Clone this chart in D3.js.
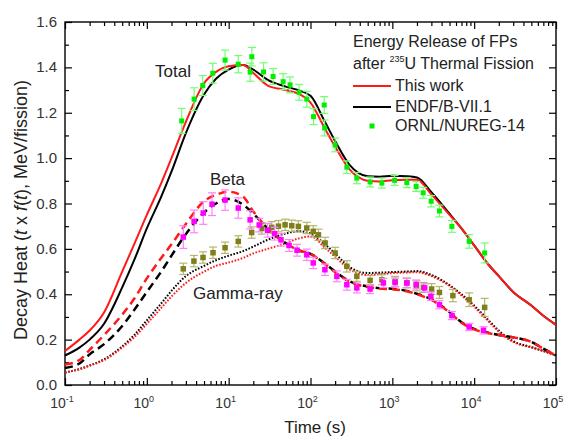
<!DOCTYPE html>
<html>
<head>
<meta charset="utf-8">
<script src="https://cdn.jsdelivr.net/npm/d3@7"></script>
<style>
  body { margin: 0; background: #fff; }
  svg { font-family: "Liberation Sans", Arial, sans-serif; }
</style>
</head>
<body>
<div id="chart"></div>
<script>
// --- curve grid (s) ---
const curveTimes = [0.1, 0.15, 0.2, 0.3, 0.5, 0.7, 1, 1.5, 2, 3, 5, 7, 10, 15, 20, 30, 50, 70,
  100, 150, 200, 300, 500, 700, 1000, 1500, 2000, 3000, 5000, 7000, 1e4, 1.5e4, 2e4, 3e4, 5e4, 7e4, 1e5];

const totalThis = [0.15, 0.20, 0.24, 0.32, 0.50, 0.62, 0.75, 0.89, 1.00, 1.16, 1.33, 1.38, 1.405, 1.41,
  1.375, 1.32, 1.30, 1.285, 1.245, 1.13, 1.05, 0.95, 0.90, 0.897, 0.903, 0.905, 0.905, 0.84, 0.75, 0.69,
  0.615, 0.53, 0.48, 0.41, 0.35, 0.305, 0.265];
const totalEndf = [0.13, 0.165, 0.20, 0.27, 0.43, 0.55, 0.69, 0.83, 0.94, 1.11, 1.28, 1.35, 1.39, 1.41,
  1.39, 1.345, 1.315, 1.30, 1.275, 1.16, 1.075, 0.97, 0.92, 0.918, 0.922, 0.92, 0.915, 0.85, 0.755, 0.69,
  0.615, 0.53, 0.48, 0.41, 0.35, 0.305, 0.265];
const betaThis = [0.09, 0.11, 0.155, 0.22, 0.31, 0.38, 0.47, 0.56, 0.62, 0.71, 0.81, 0.838, 0.852, 0.83,
  0.765, 0.69, 0.625, 0.595, 0.578, 0.533, 0.497, 0.455, 0.432, 0.425, 0.422, 0.413, 0.40, 0.375, 0.32,
  0.275, 0.245, 0.228, 0.22, 0.21, 0.19, 0.16, 0.13];
const betaEndf = [0.075, 0.095, 0.135, 0.18, 0.26, 0.33, 0.41, 0.50, 0.57, 0.665, 0.76, 0.80, 0.82, 0.795,
  0.755, 0.69, 0.625, 0.595, 0.578, 0.535, 0.50, 0.457, 0.434, 0.427, 0.424, 0.415, 0.402, 0.377, 0.322,
  0.277, 0.247, 0.23, 0.22, 0.21, 0.19, 0.16, 0.13];
const gammaThis = [0.055, 0.07, 0.085, 0.11, 0.165, 0.21, 0.27, 0.34, 0.39, 0.45, 0.50, 0.525, 0.54, 0.56,
  0.58, 0.60, 0.625, 0.645, 0.655, 0.605, 0.565, 0.51, 0.485, 0.488, 0.493, 0.496, 0.497, 0.48, 0.437,
  0.395, 0.345, 0.28, 0.235, 0.19, 0.165, 0.15, 0.13];
const gammaEndf = [0.055, 0.07, 0.086, 0.113, 0.17, 0.22, 0.285, 0.36, 0.415, 0.48, 0.525, 0.55, 0.57, 0.59,
  0.61, 0.64, 0.668, 0.678, 0.668, 0.62, 0.58, 0.52, 0.494, 0.495, 0.498, 0.50, 0.502, 0.485, 0.44,
  0.40, 0.35, 0.285, 0.24, 0.193, 0.167, 0.15, 0.13];

// --- ORNL/NUREG-14 points ---
const totTime = [2.67, 3.78, 4.82, 6.39, 9.04, 13.1, 18.3, 19.2, 26.7, 34.9, 46.3, 56.3, 72.6, 90.1, 109,
  147, 149, 200, 278, 368, 535, 745, 1067, 1503, 1954, 2382, 2981, 3764, 5337, 8690, 13430];
const totVal = [1.164, 1.26, 1.32, 1.374, 1.432, 1.414, 1.379, 1.447, 1.38, 1.36, 1.337, 1.323, 1.29, 1.26, 1.183,
  1.234, 1.133, 1.058, 0.96, 0.912, 0.895, 0.89, 0.902, 0.892, 0.875, 0.847, 0.81, 0.767, 0.699, 0.633, 0.582];
const totErr = [0.055, 0.05, 0.044, 0.044, 0.044, 0.038, 0.04, 0.041, 0.04, 0.035, 0.035, 0.035, 0.035, 0.035, 0.035,
  0.037, 0.035, 0.03, 0.028, 0.025, 0.022, 0.022, 0.022, 0.022, 0.022, 0.024, 0.025, 0.026, 0.026, 0.03, 0.044];

const betaTime = [2.79, 3.78, 4.89, 6.26, 9.04, 13.1, 18.3, 23.6, 29.9, 36.4, 43.6, 54.7, 68.5, 90.1, 108, 150,
  210, 278, 368, 535, 778, 1081, 1503, 1954, 2483, 2958, 3764, 5337, 8690, 13000];
const betaVal = [0.652, 0.721, 0.758, 0.797, 0.815, 0.78, 0.728, 0.705, 0.682, 0.667, 0.64, 0.615, 0.594, 0.574,
  0.538, 0.508, 0.479, 0.442, 0.428, 0.423, 0.45, 0.452, 0.45, 0.443, 0.428, 0.391, 0.354, 0.306, 0.256, 0.241];
const betaErr = [0.05, 0.05, 0.05, 0.05, 0.045, 0.045, 0.04, 0.03, 0.03, 0.028, 0.028, 0.026, 0.026, 0.025,
  0.025, 0.025, 0.024, 0.024, 0.022, 0.02, 0.02, 0.02, 0.02, 0.02, 0.018, 0.018, 0.018, 0.018, 0.016, 0.016];

const gammaTime = [2.79, 3.76, 4.86, 6.44, 9.04, 13.1, 19.1, 25.4, 33.6, 40.6, 48.9, 59.0, 71.1, 90.1, 108, 125,
  151, 200, 278, 368, 535, 745, 1081, 1503, 1972, 2399, 3020, 3764, 5495, 8690, 13430];
const gammaVal = [0.512, 0.546, 0.562, 0.583, 0.605, 0.633, 0.672, 0.69, 0.695, 0.70, 0.706, 0.702, 0.699, 0.692,
  0.677, 0.662, 0.626, 0.582, 0.523, 0.479, 0.461, 0.464, 0.457, 0.45, 0.437, 0.43, 0.423, 0.408, 0.394, 0.376, 0.342];
const gammaErr = [0.025, 0.025, 0.025, 0.025, 0.025, 0.025, 0.025, 0.025, 0.025, 0.025, 0.025, 0.025, 0.025, 0.025,
  0.025, 0.025, 0.025, 0.025, 0.025, 0.022, 0.022, 0.022, 0.022, 0.022, 0.022, 0.022, 0.024, 0.026, 0.027, 0.03, 0.04];

const yTicks = [0.0, 0.2, 0.4, 0.6, 0.8, 1.0, 1.2, 1.4, 1.6];
const xDecades = [-1, 0, 1, 2, 3, 4, 5];

// --------------------------
// CHART DIMENSIONS
// --------------------------
const width = 571;
const height = 440;
const margin = { top: 22, right: 15, bottom: 55, left: 65 };

const svg = d3.select("#chart").append("svg")
  .attr("width", width)
  .attr("height", height);

const x = d3.scaleLog()
  .domain([0.1, 1e5])
  .range([margin.left, width - margin.right]);

const y = d3.scaleLinear()
  .domain([0, 1.6])
  .range([height - margin.bottom, margin.top]);

// axes with inward ticks
const majorX = xDecades.map(e => Math.pow(10, e));
const minorX = [];
xDecades.slice(0, -1).forEach(e => {
  for (let k = 2; k <= 9; k++) minorX.push(k * Math.pow(10, e));
});
const minorY = d3.range(0.1, 1.6, 0.2);

function addAxis(axisFn, scale, values, size, transform) {
  svg.append("g")
    .attr("transform", transform)
    .call(axisFn(scale).tickValues(values).tickSize(size).tickFormat(""))
    .call(g => g.select(".domain").remove())
    .call(g => g.selectAll("line").attr("stroke", "#000").attr("stroke-width", 1.2));
}
const bottomY = height - margin.bottom;
addAxis(d3.axisBottom, x, majorX, -7, `translate(0,${bottomY})`);
addAxis(d3.axisBottom, x, minorX, -4, `translate(0,${bottomY})`);
addAxis(d3.axisTop, x, majorX, -7, `translate(0,${margin.top})`);
addAxis(d3.axisTop, x, minorX, -4, `translate(0,${margin.top})`);
addAxis(d3.axisLeft, y, yTicks, -7, `translate(${margin.left},0)`);
addAxis(d3.axisLeft, y, minorY, -4, `translate(${margin.left},0)`);
addAxis(d3.axisRight, y, yTicks, -7, `translate(${width - margin.right},0)`);
addAxis(d3.axisRight, y, minorY, -4, `translate(${width - margin.right},0)`);

svg.append("rect")
  .attr("x", margin.left).attr("y", margin.top)
  .attr("width", width - margin.left - margin.right)
  .attr("height", height - margin.top - margin.bottom)
  .attr("fill", "none").attr("stroke", "#000").attr("stroke-width", 1.4);

// tick labels
svg.append("g").selectAll("text")
  .data(yTicks)
  .join("text")
    .attr("x", margin.left - 8)
    .attr("y", d => y(d) + 5)
    .attr("text-anchor", "end")
    .attr("font-size", 15)
    .attr("fill", "#333")
    .text(d => d3.format(".1f")(d));

const xl = svg.append("g").selectAll("text")
  .data(xDecades)
  .join("text")
    .attr("x", d => x(Math.pow(10, d)) - 3)
    .attr("y", bottomY + 23)
    .attr("text-anchor", "middle")
    .attr("font-size", 14)
    .attr("fill", "#333");
xl.append("tspan").text("10");
xl.append("tspan").attr("dy", -6).attr("font-size", 9).text(d => d);

// axis titles
svg.append("text")
  .attr("x", 315).attr("y", 433)
  .attr("text-anchor", "middle")
  .attr("font-size", 17)
  .attr("fill", "#222")
  .text("Time (s)");

const yt = svg.append("text")
  .attr("transform", "translate(27,210) rotate(-90)")
  .attr("text-anchor", "middle")
  .attr("font-size", 18)
  .attr("fill", "#222");
yt.append("tspan").text("Decay Heat (");
yt.append("tspan").attr("font-style", "italic").text("t");
yt.append("tspan").text(" x ");
yt.append("tspan").attr("font-style", "italic").text("f");
yt.append("tspan").text("(");
yt.append("tspan").attr("font-style", "italic").text("t");
yt.append("tspan").text("), MeV/fission)");

// --------------------------
// CURVES
// --------------------------
const line = d3.line()
  .x(d => x(d.t))
  .y(d => y(d.v))
  .curve(d3.curveMonotoneX);

const curves = [
  { vals: gammaEndf, color: "#000", dash: "1.6,1.6", w: 2 },
  { vals: gammaThis, color: "#ff1a1a", dash: "1.6,1.6", w: 2 },
  { vals: betaEndf, color: "#000", dash: "8,5", w: 2.5 },
  { vals: betaThis, color: "#ff1a1a", dash: "8,5", w: 2.5 },
  { vals: totalEndf, color: "#000", dash: null, w: 2 },
  { vals: totalThis, color: "#ff1a1a", dash: null, w: 2 }
];

svg.append("g").selectAll("path")
  .data(curves)
  .join("path")
    .attr("d", c => line(curveTimes.map((t, i) => ({ t, v: c.vals[i] }))))
    .attr("fill", "none")
    .attr("stroke", c => c.color)
    .attr("stroke-width", c => c.w)
    .attr("stroke-dasharray", c => c.dash);

// --------------------------
// DATA POINTS WITH ERROR BARS
// --------------------------
function drawPoints(times, vals, errs, fill, barColor, size) {
  const pts = times.map((t, i) => ({ t, v: vals[i], e: errs[i] }));
  const g = svg.append("g");
  const bars = g.append("g").attr("stroke", barColor).attr("stroke-width", 1.2);
  bars.selectAll(".v").data(pts).join("line")
    .attr("x1", d => x(d.t)).attr("x2", d => x(d.t))
    .attr("y1", d => y(d.v - d.e)).attr("y2", d => y(d.v + d.e));
  bars.selectAll(".top").data(pts).join("line").attr("class", "top")
    .attr("x1", d => x(d.t) - 4).attr("x2", d => x(d.t) + 4)
    .attr("y1", d => y(d.v + d.e)).attr("y2", d => y(d.v + d.e));
  bars.selectAll(".bot").data(pts).join("line").attr("class", "bot")
    .attr("x1", d => x(d.t) - 4).attr("x2", d => x(d.t) + 4)
    .attr("y1", d => y(d.v - d.e)).attr("y2", d => y(d.v - d.e));
  g.selectAll("rect").data(pts).join("rect")
    .attr("x", d => x(d.t) - size / 2)
    .attr("y", d => y(d.v) - size / 2)
    .attr("width", size).attr("height", size)
    .attr("fill", fill);
}

drawPoints(gammaTime, gammaVal, gammaErr, "#7f7f1a", "#b5b56e", 5.5);
drawPoints(betaTime, betaVal, betaErr, "#ff00ff", "#ff80ff", 5.5);
drawPoints(totTime, totVal, totErr, "#00ee00", "#70ff70", 5);

// --------------------------
// LABELS & LEGEND
// --------------------------
const labels = [
  { text: "Total", x: 155, y: 77 },
  { text: "Beta", x: 210, y: 185 },
  { text: "Gamma-ray", x: 193, y: 299 }
];
svg.append("g").selectAll("text")
  .data(labels)
  .join("text")
    .attr("x", d => d.x).attr("y", d => d.y)
    .attr("font-size", 17)
    .attr("fill", "#222")
    .text(d => d.text);

const legend = svg.append("g").attr("font-size", 16).attr("fill", "#222");
legend.append("text").attr("x", 353).attr("y", 47).text("Energy Release of FPs");
const l2 = legend.append("text").attr("x", 353).attr("y", 69);
l2.append("tspan").text("after ");
l2.append("tspan").attr("font-size", 9).attr("dy", -7).text("235");
l2.append("tspan").attr("dy", 7).text("U Thermal Fission");

legend.append("line").attr("x1", 353).attr("x2", 391).attr("y1", 86).attr("y2", 86)
  .attr("stroke", "#ff1a1a").attr("stroke-width", 2);
legend.append("text").attr("x", 395).attr("y", 91).text("This work");
legend.append("line").attr("x1", 353).attr("x2", 391).attr("y1", 107).attr("y2", 107)
  .attr("stroke", "#000").attr("stroke-width", 2);
legend.append("text").attr("x", 395).attr("y", 112).text("ENDF/B-VII.1");
legend.append("rect").attr("x", 369.5).attr("y", 123.5).attr("width", 5).attr("height", 5)
  .attr("fill", "#00ee00");
legend.append("text").attr("x", 395).attr("y", 131).text("ORNL/NUREG-14");
</script>
</body>
</html>
